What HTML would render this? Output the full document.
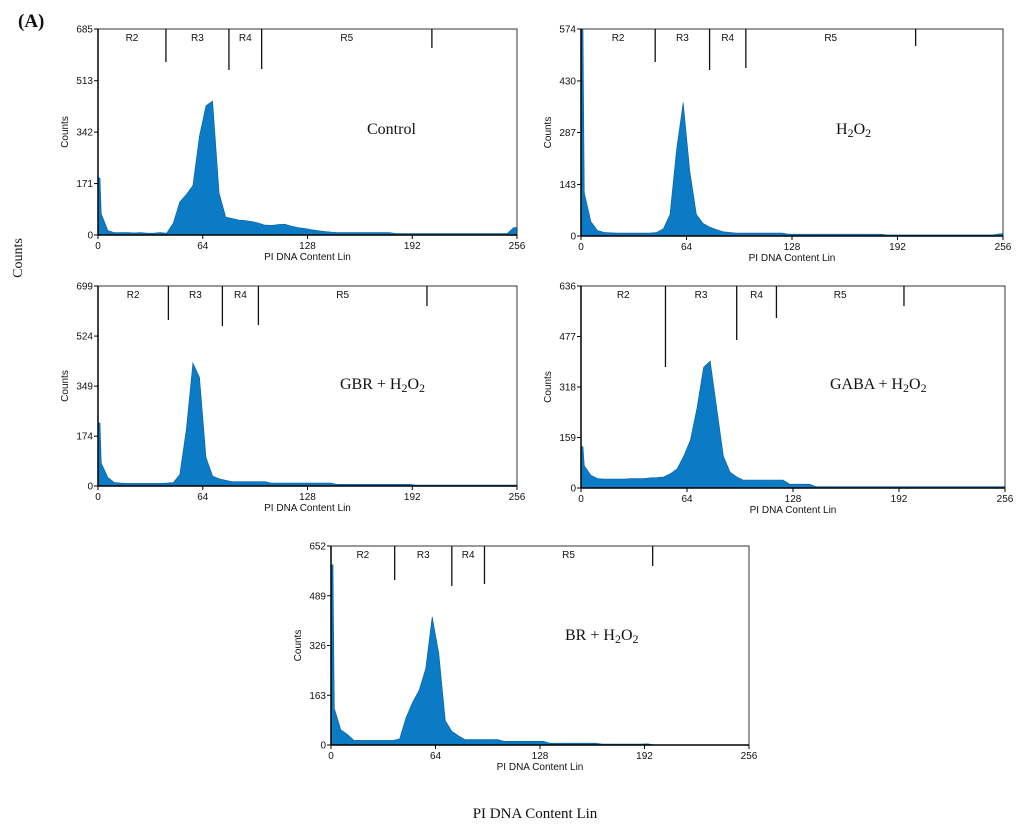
<!DOCTYPE html>
<html><head><meta charset="utf-8">
<style>
body{margin:0;background:#fff;}
svg{display:block;}
.t{font-family:"Liberation Sans",sans-serif;font-size:10px;fill:#111;}
.s{font-family:"Liberation Serif",serif;fill:#111;}
</style></head>
<body>
<svg id="chart" width="1024" height="830" xmlns="http://www.w3.org/2000/svg">
<text class="s" x="18" y="27" font-size="19" font-weight="bold">(A)</text>
<text class="s" x="22" y="258" font-size="14" transform="rotate(-90 22 258)" text-anchor="middle">Counts</text>
<text class="s" x="535" y="818" font-size="15" text-anchor="middle">PI DNA Content Lin</text>
</svg>
<script>
// counts per 4-unit bin (bin i covers 4i..4i+4)
const controlCounts=[70,15,8,8,8,7,8,6,6,8,6,40,110,135,165,330,430,445,140,60,55,50,48,45,40,33,32,35,36,30,25,22,18,15,12,10,8,8,8,8,8,8,8,8,8,5,5,5,5,5,5,5,5,5,5,5,5,5,5,5,5,5,5,25];
const h2o2Counts=[120,40,15,10,9,8,8,8,8,8,8,10,20,60,240,370,180,60,35,25,18,12,10,8,8,8,8,8,8,8,8,5,5,5,5,5,5,5,5,5,5,5,5,5,5,5,3,3,3,3,3,3,3,3,3,3,3,3,3,3,3,3,3,6];
const gbrCounts=[80,30,12,10,9,9,9,9,9,9,10,12,40,200,430,380,100,35,25,20,15,15,15,15,15,15,10,10,10,10,10,10,10,10,10,10,6,6,6,6,6,6,6,6,6,6,6,6,3,3,3,3,3,3,3,3,3,3,3,3,3,3,3,3];
const gabaCounts=[70,40,30,28,28,28,28,30,30,30,32,33,35,45,60,100,150,250,380,400,250,100,50,35,25,25,25,25,25,25,25,12,12,12,12,4,4,4,4,4,4,4,4,4,4,4,4,4,4,4,4,4,4,4,4,4,4,4,4,4,4,4,4,4];
const brCounts=[120,50,35,15,15,15,15,15,15,15,20,90,140,180,250,420,300,80,45,30,18,18,18,18,18,18,12,12,12,12,12,12,12,6,6,6,6,6,6,6,6,3,3,3,3,3,3,3,4,0,0,0,0,0,0,0,0,0,0,0,0,0,0,0];
// narrow debris spike at channel 0-1
const zeroSpikes=[190,574,220,130,590];
const panelTitles=["Control","H2O2","GBR + H2O2","GABA + H2O2","BR + H2O2"];
const yMaxes=[685,574,699,636,652];
const regionLabels=["R2","R3","R4","R5"];
const controlGates=[41.5,80,100,204];
const h2o2Gates=[45,78,100,203];
const gbrGates=[43,76,98,201];
const gabaGates=[51,94,118,195];
const brGates=[39,74,94,197];
const xTicks=[0,64,128,192,256];

const NS="http://www.w3.org/2000/svg";
const svg=document.getElementById('chart');
function mk(tag,attrs,parent){const e=document.createElementNS(NS,tag);for(const k in attrs)e.setAttribute(k,attrs[k]);(parent||svg).appendChild(e);return e;}

const panels=[
 {L:98,R:517,T:29,B:235,counts:controlCounts,gates:controlGates,gateEnds:[62,70,69,48],lx:367,ly:134,key:"control"},
 {L:581,R:1003,T:29,B:236,counts:h2o2Counts,gates:h2o2Gates,gateEnds:[62,70,68,46],lx:836,ly:134,key:"h2o2"},
 {L:98,R:517,T:286,B:486,counts:gbrCounts,gates:gbrGates,gateEnds:[320,326,325,306],lx:340,ly:389,key:"gbr-h2o2"},
 {L:581,R:1005,T:286,B:488,counts:gabaCounts,gates:gabaGates,gateEnds:[367,340,318,306],lx:830,ly:389,key:"gaba-h2o2"},
 {L:331,R:749,T:546,B:745,counts:brCounts,gates:brGates,gateEnds:[580,586,584,566],lx:565,ly:640,key:"br-h2o2"}
];

panels.forEach((p,pi)=>{
 const g=mk('g',{});
 
 
 const ymax=yMaxes[pi];
 const xs=v=>p.L+v/256*(p.R-p.L);
 const ys=v=>p.B-Math.min(v,ymax)/ymax*(p.B-p.T);
 let d='M'+xs(0)+','+p.B+' L'+xs(0)+','+ys(zeroSpikes[pi]).toFixed(1)+' L'+xs(1.2).toFixed(1)+','+ys(zeroSpikes[pi]).toFixed(1);
 p.counts.forEach((c,i)=>{d+=' L'+xs(i*4+2).toFixed(1)+','+ys(c).toFixed(1);});
 d+=' L'+xs(256)+','+ys(p.counts[p.counts.length-1]).toFixed(1)+' L'+xs(256)+','+p.B+' Z';
 const h=mk('path',{d:d,fill:'#0a7bc4',stroke:'#0b5fa0','stroke-width':'0.6'},g);
 
 
 mk('rect',{x:p.L,y:p.T,width:p.R-p.L,height:p.B-p.T,fill:'none',stroke:'#333','stroke-width':'1'},g);
 mk('line',{x1:p.L,y1:p.T,x2:p.L,y2:p.B,stroke:'#000','stroke-width':'1.5'},g);
 mk('line',{x1:p.L,y1:p.B,x2:p.R,y2:p.B,stroke:'#000','stroke-width':'1.5'},g);
 const yt=[0,Math.floor(ymax/4),Math.floor(ymax/2),Math.floor(ymax*3/4),ymax];
 yt.forEach(v=>{
  const yy=ys(v);
  mk('line',{x1:p.L-4,y1:yy,x2:p.L,y2:yy,stroke:'#000'},g);
  const t=mk('text',{x:p.L-5,y:yy+3.5,'text-anchor':'end',class:'t'},g);
  
  
  t.textContent=v;
 });
 xTicks.forEach(v=>{
  const xx=xs(v);
  mk('line',{x1:xx,y1:p.B,x2:xx,y2:p.B+4,stroke:'#000'},g);
  const t=mk('text',{x:xx,y:p.B+14,'text-anchor':'middle',class:'t'},g);
  
  
  t.textContent=v;
 });
 const xt=mk('text',{x:(p.L+p.R)/2,y:p.B+25,'text-anchor':'middle',class:'t'},g);
 
 
 xt.textContent='PI  DNA Content Lin';
 const yc=(p.T+p.B)/2;
 const yl=mk('text',{x:p.L-30,y:yc,'text-anchor':'middle',class:'t',transform:'rotate(-90 '+(p.L-30)+' '+yc+')'},g);
 
 
 yl.textContent='Counts';
 const bounds=[0].concat(p.gates);
 p.gates.forEach((gv,i)=>{
  const xx=xs(gv);
  const gl=mk('line',{x1:xx,y1:p.T,x2:xx,y2:p.gateEnds[i],stroke:'#111','stroke-width':'1.3'},g);
  
  
  const cx=xs((bounds[i]+gv)/2);
  const lt=mk('text',{x:cx,y:p.T+12,'text-anchor':'middle',class:'t'},g);
  
  
  lt.textContent=regionLabels[i];
 });
 const title=mk('text',{x:p.lx,y:p.ly,class:'s','font-size':'16'},g);
 
 
 const parts=panelTitles[pi].split('H2O2');
 title.appendChild(document.createTextNode(parts[0]));
 if(parts.length>1){
  const a=mk('tspan',{},title);a.textContent='H';
  const b=mk('tspan',{'font-size':'12','dy':'3'},title);b.textContent='2';
  const c=mk('tspan',{'dy':'-3'},title);c.textContent='O';
  const e=mk('tspan',{'font-size':'12','dy':'3'},title);e.textContent='2';
 }
});
</script>
</body></html>
